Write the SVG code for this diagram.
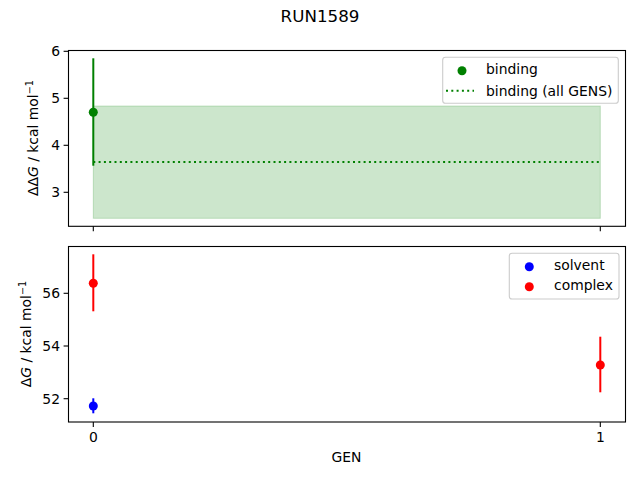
<svg xmlns="http://www.w3.org/2000/svg" width="640" height="480" viewBox="0 0 640 480">
<style>
text{font-family:"DejaVu Sans",sans-serif;font-size:13.9px;fill:#000}
.ax{fill:none;stroke:#000;stroke-width:1.1}
.tk{stroke:#000;stroke-width:1.1}
.leg{fill:#fff;fill-opacity:0.8;stroke:#ccc;stroke-width:1.1}
</style>
<rect width="640" height="480" fill="#fff"/>
<text x="320" y="22" text-anchor="middle" style="font-size:16.7px">RUN1589</text>
<g id="top-axes">
<rect x="93.3" y="106" width="507" height="112.3" fill="#008000" fill-opacity="0.2" stroke="#008000" stroke-opacity="0.2"/>
<line x1="93.3" y1="162" x2="600.3" y2="162" stroke="#008000" stroke-width="2" stroke-dasharray="2,3.3"/>
<line x1="93.3" y1="58.3" x2="93.3" y2="165.7" stroke="#008000" stroke-width="2"/>
<circle cx="93.3" cy="112.3" r="4.5" fill="#008000"/>
<rect class="ax" x="68.5" y="50.5" width="557" height="175.8"/>
<g class="tk">
<line x1="63.6" y1="51.3" x2="68.5" y2="51.3"/>
<line x1="63.6" y1="98.3" x2="68.5" y2="98.3"/>
<line x1="63.6" y1="145.3" x2="68.5" y2="145.3"/>
<line x1="63.6" y1="192.3" x2="68.5" y2="192.3"/>
<line x1="93.3" y1="226.3" x2="93.3" y2="231.2"/>
<line x1="600.3" y1="226.3" x2="600.3" y2="231.2"/>
</g>
<g text-anchor="end">
<text x="60" y="56.3">6</text>
<text x="60" y="103.3">5</text>
<text x="60" y="150.3">4</text>
<text x="60" y="197.3">3</text>
</g>
<text transform="translate(38,138) rotate(-90)" text-anchor="middle">ΔΔ<tspan font-style="italic">G</tspan> / kcal mol<tspan dy="-5" style="font-size:9.7px">−1</tspan></text>
<g id="legend-top">
<rect class="leg" x="442.7" y="57.3" width="175.6" height="46" rx="2.8"/>
<circle cx="462" cy="70.7" r="4.5" fill="#008000"/>
<text x="486" y="73.8">binding</text>
<line x1="446" y1="90.7" x2="474" y2="90.7" stroke="#008000" stroke-width="2" stroke-dasharray="2,3.3"/>
<text x="486" y="95.5">binding (all GENS)</text>
</g>
</g>
<g id="bottom-axes">
<line x1="93.3" y1="398.3" x2="93.3" y2="413.3" stroke="#0000ff" stroke-width="2"/>
<circle cx="93.3" cy="406" r="4.5" fill="#0000ff"/>
<line x1="93.3" y1="254.3" x2="93.3" y2="311.3" stroke="#ff0000" stroke-width="2"/>
<circle cx="93.3" cy="283.3" r="4.5" fill="#ff0000"/>
<line x1="600.3" y1="336.7" x2="600.3" y2="392.3" stroke="#ff0000" stroke-width="2"/>
<circle cx="600.3" cy="365" r="4.5" fill="#ff0000"/>
<rect class="ax" x="68.5" y="246.5" width="557" height="175.5"/>
<g class="tk">
<line x1="63.6" y1="293.3" x2="68.5" y2="293.3"/>
<line x1="63.6" y1="346" x2="68.5" y2="346"/>
<line x1="63.6" y1="398.7" x2="68.5" y2="398.7"/>
<line x1="93.3" y1="422" x2="93.3" y2="426.9"/>
<line x1="600.3" y1="422" x2="600.3" y2="426.9"/>
</g>
<g text-anchor="end">
<text x="60" y="298.3">56</text>
<text x="60" y="351">54</text>
<text x="60" y="403.7">52</text>
</g>
<g text-anchor="middle">
<text x="93.3" y="441.7">0</text>
<text x="600.3" y="441.7">1</text>
<text x="346.5" y="462">GEN</text>
</g>
<text transform="translate(31,334) rotate(-90)" text-anchor="middle">Δ<tspan font-style="italic">G</tspan> / kcal mol<tspan dy="-5" style="font-size:9.7px">−1</tspan></text>
<g id="legend-bottom">
<rect class="leg" x="509.3" y="253.3" width="109.7" height="45.7" rx="2.8"/>
<circle cx="529.3" cy="266.7" r="4.5" fill="#0000ff"/>
<text x="554" y="269.8">solvent</text>
<circle cx="529.3" cy="286.7" r="4.5" fill="#ff0000"/>
<text x="554" y="290">complex</text>
</g>
</g>
</svg>
